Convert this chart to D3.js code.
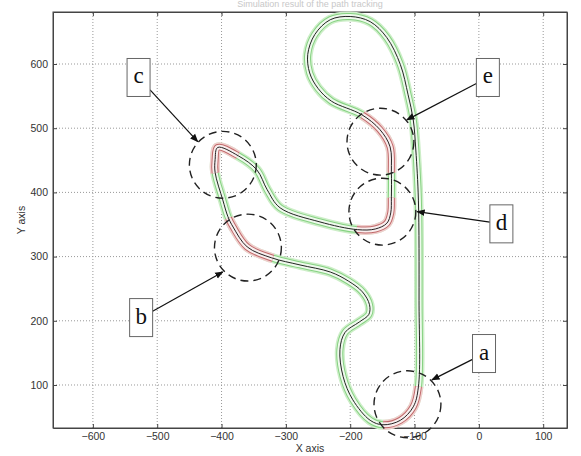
<!DOCTYPE html>
<html>
<head>
<meta charset="utf-8">
<script src="https://cdn.jsdelivr.net/npm/d3@7"></script>
<style>
    body { margin: 0; background: #fff; }
    .axis text { font-family: "Liberation Sans", Arial, sans-serif; font-size: 10.5px; fill: #333; }
    .axis path, .axis line { stroke: #444; }
</style>
</head>
<body>
<div id="main_div"></div>
<script>
/** Global Variables **/
const size = [581, 456];
const margin = { top: 12, right: 14, bottom: 28, left: 53 };
const xDomain = [-662, 137];
const yDomain = [33, 681];
const xTicks = [-600, -500, -400, -300, -200, -100, 0, 100];
const yTicks = [100, 200, 300, 400, 500, 600];

// road centre line (data units)
const trackX = [-169, -149, -122, -102, -94, -93, -94, -98, -102, -110, -122, -143, -169, -200, -231, -255, -266, -263,
    -250, -229, -182, -154, -138, -136, -136, -137, -143, -161, -189, -247, -309, -329, -345, -374, -406, -410,
    -410, -398, -390, -382, -360, -322, -278, -231, -203, -181, -170, -171, -186, -208, -216, -211, -196];
const trackY = [45, 38, 45, 66, 97, 232, 388, 466, 513, 552, 599, 641, 666, 674, 669, 646, 615, 586,
    562, 542, 521, 498, 471, 432, 393, 368, 352, 343, 342, 354, 376, 404, 435, 457, 470, 451,
    431, 388, 362, 346, 315, 298, 287, 276, 262, 245, 225, 210, 198, 182, 155, 113, 77];

// parts of the track drawn red (index ranges into the track)
const redRanges = [[1, 4], [20, 23], [24, 28], [33, 36], [38, 41]];

// annotations
const labels = ["a", "b", "c", "d", "e"];
const circleX = [-111, -359, -398, -150, -153];
const circleY = [70, 314, 443, 370, 479];
const circleR = 52;
const boxX = [8, -525, -529, 35, 14];
const boxY = [149, 205, 579, 351, 579];
const tipX = [-73, -398, -437, -96, -112];
const tipY = [108, 276, 479, 370, 513];

let svg, xScale, yScale;

render();

function render() {
    createSVG();
    drawGrid();
    drawAxes();
    drawTrack();
    drawAnnotations();
}

function createSVG() {
    svg = d3.select("#main_div")
        .append("svg")
        .attr("width", size[0])
        .attr("height", size[1])
        .attr("id", "main_svg");

    xScale = d3.scaleLinear().domain(xDomain).range([margin.left, size[0] - margin.right]);
    yScale = d3.scaleLinear().domain(yDomain).range([size[1] - margin.bottom, margin.top]);
}

function drawGrid() {
    let g = svg.append("g").attr("id", "grid");
    g.selectAll(".gx").data(xTicks).enter().append("line")
        .attr("x1", d => xScale(d)).attr("x2", d => xScale(d))
        .attr("y1", yScale.range()[0]).attr("y2", yScale.range()[1])
        .attr("stroke", "#999").attr("stroke-width", 1).attr("stroke-dasharray", "1,2");
    g.selectAll(".gy").data(yTicks).enter().append("line")
        .attr("y1", d => yScale(d)).attr("y2", d => yScale(d))
        .attr("x1", xScale.range()[0]).attr("x2", xScale.range()[1])
        .attr("stroke", "#999").attr("stroke-width", 1).attr("stroke-dasharray", "1,2");
}

function drawAxes() {
    let bottom = yScale.range()[0], top = yScale.range()[1];
    let left = xScale.range()[0], right = xScale.range()[1];

    svg.append("g").attr("class", "axis")
        .attr("transform", "translate(0," + bottom + ")")
        .call(d3.axisBottom(xScale).tickValues(xTicks).tickSizeInner(-4).tickSizeOuter(0).tickPadding(5));
    svg.append("g").attr("class", "axis")
        .attr("transform", "translate(" + left + ",0)")
        .call(d3.axisLeft(yScale).tickValues(yTicks).tickSizeInner(-4).tickSizeOuter(0).tickPadding(5));
    svg.append("g").attr("class", "axis")
        .attr("transform", "translate(0," + top + ")")
        .call(d3.axisTop(xScale).tickValues(xTicks).tickSizeInner(-4).tickSizeOuter(0).tickFormat(""));
    svg.append("g").attr("class", "axis")
        .attr("transform", "translate(" + right + ",0)")
        .call(d3.axisRight(yScale).tickValues(yTicks).tickSizeInner(-4).tickSizeOuter(0).tickFormat(""));

    svg.append("rect")
        .attr("x", left).attr("y", top)
        .attr("width", right - left).attr("height", bottom - top)
        .attr("fill", "none").attr("stroke", "#444").attr("stroke-width", 1);

    /** axis labels and title */
    svg.append("text").text("X axis")
        .attr("x", (left + right) / 2).attr("y", 452)
        .attr("text-anchor", "middle")
        .style("font-family", "Liberation Sans, Arial, sans-serif").style("font-size", "10.5px").style("fill", "#333");
    svg.append("text").text("Y axis")
        .attr("transform", "translate(25," + (top + bottom) / 2 + ") rotate(-90)")
        .attr("text-anchor", "middle")
        .style("font-family", "Liberation Sans, Arial, sans-serif").style("font-size", "10.5px").style("fill", "#333");
    svg.append("text").text("Simulation result of the path tracking")
        .attr("x", (left + right) / 2).attr("y", 7)
        .attr("text-anchor", "middle")
        .style("font-family", "Liberation Sans, Arial, sans-serif").style("font-size", "9px").style("fill", "#c8c8c8");
}

function drawTrack() {
    let pts = trackX.map((x, i) => [x, trackY[i]]);
    let line = d3.line()
        .x(d => xScale(d[0]))
        .y(d => yScale(d[1]))
        .curve(d3.curveCatmullRomClosed.alpha(0.5));
    let dStr = line(pts);
    let g = svg.append("g").attr("id", "track");

    let layers = [
        { w: 10, green: "#cdeec8", red: "#f0cdcd" },
        { w: 7, green: "#86d282", red: "#c06a6a" },
        { w: 5, green: "#eef9ec", red: "#f9eeee" }
    ];

    layers.forEach(l => {
        g.append("path").attr("d", dStr)
            .attr("fill", "none").attr("stroke", l.green).attr("stroke-width", l.w)
            .attr("stroke-linejoin", "round");
    });

    /** find lengths along the path for the red parts */
    let node = g.select("path").node();
    let total = node.getTotalLength();
    function lengthAt(i) {
        let px = xScale(trackX[i]), py = yScale(trackY[i]);
        let best = 0, bd = 1e9;
        for (let s = 0; s <= total; s += 1) {
            let p = node.getPointAtLength(s);
            let dd = (p.x - px) * (p.x - px) + (p.y - py) * (p.y - py);
            if (dd < bd) { bd = dd; best = s; }
        }
        return best;
    }
    let redDash = redRanges.map(r => {
        let l0 = lengthAt(r[0]), l1 = lengthAt(r[1]);
        if (l1 < l0) { let t = l0; l0 = l1; l1 = t; }
        return "0," + l0 + "," + (l1 - l0) + "," + (total + 10);
    });

    layers.forEach(l => {
        redDash.forEach(dash => {
            g.append("path").attr("d", dStr)
                .attr("fill", "none").attr("stroke", l.red).attr("stroke-width", l.w)
                .attr("stroke-dasharray", dash);
        });
    });

    /** vehicle trajectory */
    g.append("path").attr("d", dStr)
        .attr("fill", "none").attr("stroke", "#222").attr("stroke-width", 1);
}

function drawAnnotations() {
    let k = xScale(circleR) - xScale(0);
    let g = svg.append("g").attr("id", "notes");

    svg.append("defs").append("marker")
        .attr("id", "arrow")
        .attr("viewBox", "0 0 10 10")
        .attr("refX", 9).attr("refY", 5)
        .attr("markerWidth", 7).attr("markerHeight", 7)
        .attr("orient", "auto")
        .append("path").attr("d", "M0,1 L10,5 L0,9 Z").attr("fill", "#111");

    labels.forEach((lab, i) => {
        g.append("circle")
            .attr("cx", xScale(circleX[i])).attr("cy", yScale(circleY[i])).attr("r", k)
            .attr("fill", "none").attr("stroke", "#222").attr("stroke-width", 1.4)
            .attr("stroke-dasharray", "8,5");

        let cx = xScale(boxX[i]), cy = yScale(boxY[i]);
        let tx = xScale(tipX[i]), ty = yScale(tipY[i]);
        let hw = 11.5, hh = 19;
        let dx = tx - cx, dy = ty - cy;
        let t = Math.min(hw / Math.abs(dx), hh / Math.abs(dy));

        g.append("line")
            .attr("x1", cx + dx * t).attr("y1", cy + dy * t)
            .attr("x2", tx).attr("y2", ty)
            .attr("stroke", "#111").attr("stroke-width", 1.2)
            .attr("marker-end", "url(#arrow)");

        g.append("rect")
            .attr("x", cx - hw).attr("y", cy - hh)
            .attr("width", hw * 2).attr("height", hh * 2)
            .attr("fill", "#fff").attr("stroke", "#666").attr("stroke-width", 1);

        g.append("text").text(lab)
            .attr("x", cx).attr("y", cy + 6)
            .attr("text-anchor", "middle")
            .style("font-family", "Liberation Serif, Times New Roman, serif")
            .style("font-size", "23px").style("fill", "#111");
    });
}
</script>
</body>
</html>
